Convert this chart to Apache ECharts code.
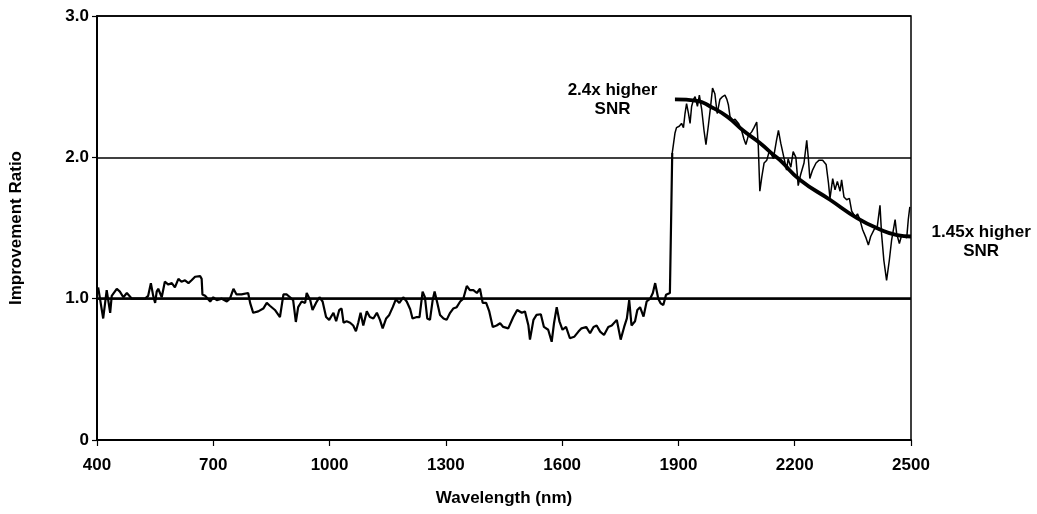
<!DOCTYPE html>
<html>
<head>
<meta charset="utf-8">
<script src="https://cdn.jsdelivr.net/npm/echarts@6/dist/echarts.min.js"></script>
<style>
html,body{margin:0;padding:0;background:#fff;}
#chart{width:1037px;height:514px;}
</style>
</head>
<body>
<div id="chart"></div>
<script>
// Measured ratio, visible-NIR part (nm, ratio)
var wavelengthsLow = [403,416,425,434,438,451,459,468,477,490,524,532,539,545,550,554,558,567,575,584,593,601,610,618,627,636,644,653,666,670,672,679,692,700,709,722,735,743,752,760,773,790,795,803,816,829,838,846,859,872,881,889,898,906,913,919,928,937,
941,950,956,965,974,982,991,999,1010,1017,1025,1031,1036,1044,1053,1061,1068,1074,1080,1087,1096,1104,1113,1122,1130,1137,1146,1154,1163,1171,1180,1190,1199,1208,1214,1225,1232,1240,1246,1252,1259,1266,1271,1278,1285,1294,1302,1311,1319,1328,1337,1345,1354,1362,1371,1380,1388,1395,1404,1412,1421,1431,1440,1448,1461,
1474,1484,1496,1504,1513,1517,1526,1534,1545,1553,1564,1573,1579,1586,1593,1601,1610,1620,1631,1642,1650,1662,1672,1681,1689,1698,1708,1719,1728,1741,1751,1760,1767,1773,1779,1788,1794,1801,1810,1818,1827,1834,1840,1848,1854,1861,1868,1878,1883,1884];
var ratiosLow = [1.08,0.86,1.06,0.90,1.02,1.07,1.05,1.01,1.04,1.00,1.00,1.02,1.11,1.02,0.97,1.05,1.07,1.01,1.12,1.10,1.11,1.08,1.14,1.12,1.13,1.11,1.13,1.155,1.16,1.14,1.03,1.02,0.98,1.01,0.99,1.00,0.98,1.00,1.07,1.03,1.03,1.04,0.97,0.90,0.91,0.93,0.97,0.95,0.92,0.87,1.03,1.03,1.01,0.99,0.835,0.94,0.98,0.97,
1.04,0.99,0.92,0.97,1.01,0.98,0.87,0.85,0.90,0.84,0.92,0.93,0.83,0.84,0.83,0.81,0.77,0.83,0.90,0.81,0.91,0.87,0.86,0.90,0.85,0.79,0.86,0.885,0.94,0.995,0.97,1.01,0.98,0.925,0.86,0.87,0.87,1.05,1.01,0.86,0.85,0.99,1.05,0.97,0.885,0.86,0.85,0.90,0.93,0.94,0.98,1.00,1.09,1.06,1.06,1.04,1.07,0.97,0.97,0.91,0.80,0.81,0.826,0.80,0.79,
0.87,0.92,0.90,0.91,0.81,0.71,0.85,0.885,0.89,0.80,0.78,0.695,0.826,0.94,0.84,0.78,0.80,0.72,0.73,0.767,0.79,0.80,0.755,0.80,0.81,0.767,0.743,0.80,0.81,0.85,0.71,0.80,0.86,0.99,0.81,0.84,0.92,0.94,0.873,0.98,1.00,1.04,1.11,1.00,0.967,0.955,1.027,1.04,1.04,2.03];
// Measured ratio, SWIR part
var wavelengthsHigh = [1884,1891,1895,1902,1908,1913,1917,1921,1926,1930,1934,1939,1943,1949,1954,1960,1966,1971,1977,1983,1988,1994,2000,2007,2014,2020,2025,2029,2033,2040,2046,2055,2063,2069,2074,2080,2089,2095,2102,2106,2110,2115,2121,2128,2135,2145,2153,2158,2164,2172,2179,
2183,2190,2196,2203,2209,2215,2224,2231,2235,2239,2246,2255,2263,2272,2281,2287,2291,2298,2304,2310,2317,2321,2327,2334,2341,2347,2356,2362,2368,2375,2384,2390,2396,2405,2413,2420,2424,2430,2437,2444,2450,2459,2463,2470,2476,2482,2489,2493,2497];
var ratiosHigh = [2.03,2.17,2.21,2.22,2.24,2.21,2.31,2.38,2.31,2.24,2.36,2.41,2.43,2.36,2.44,2.34,2.19,2.09,2.22,2.36,2.49,2.45,2.31,2.41,2.43,2.44,2.41,2.37,2.29,2.26,2.27,2.24,2.19,2.13,2.09,2.15,2.18,2.21,2.25,2.08,1.76,1.86,1.96,1.98,2.05,1.99,2.12,2.19,2.10,2.00,1.91,
1.99,1.93,2.04,2.00,1.80,1.875,1.96,2.12,2.00,1.85,1.91,1.96,1.98,1.98,1.95,1.82,1.71,1.85,1.77,1.83,1.76,1.84,1.72,1.70,1.71,1.62,1.58,1.60,1.56,1.49,1.43,1.38,1.44,1.49,1.51,1.66,1.46,1.27,1.13,1.27,1.415,1.56,1.46,1.39,1.45,1.44,1.43,1.56,1.65];
// Smooth fit through the SWIR region
var fitWavelengths = [1891,1948,1982,2025,2067,2111,2144,2162,2214,2291,2361,2420,2464,2500];
var fitRatios = [2.41,2.40,2.36,2.29,2.19,2.10,2.02,1.98,1.84,1.70,1.57,1.49,1.45,1.44];
// Axis ticks
var xTicks = [400,700,1000,1300,1600,1900,2200,2500];
var yTicks = [0,1,2,3];
var notes = [
  {text:'2.4x higher\nSNR', at:[1730, 2.41]},
  {text:'1.45x higher\nSNR', at:[2681, 1.40]}
];

function pairs(xs, ys){ return xs.map(function(x,i){return [x, ys[i]];}); }

var FONT = '"Liberation Sans", Arial, sans-serif';
var chart = echarts.init(document.getElementById('chart'));
chart.setOption({
  animation:false,
  backgroundColor:'#fff',
  grid:{left:97,right:126,top:16,bottom:74,show:true,borderColor:'#000',borderWidth:1.5,backgroundColor:'transparent'},
  xAxis:{
    type:'value', min:xTicks[0], max:xTicks[xTicks.length-1], interval:300,
    name:'Wavelength (nm)', nameLocation:'middle', nameGap:50,
    nameTextStyle:{fontFamily:FONT,fontWeight:'bold',fontSize:17,color:'#000'},
    axisLine:{show:true,lineStyle:{color:'#000',width:2}},
    axisTick:{show:true,length:6,lineStyle:{color:'#000',width:1.2}},
    axisLabel:{fontFamily:FONT,fontWeight:'bold',fontSize:17,color:'#000',margin:17,
      formatter:function(v){return String(v);}},
    splitLine:{show:false}
  },
  yAxis:{
    type:'value', min:yTicks[0], max:yTicks[yTicks.length-1], interval:1,
    name:'Improvement Ratio', nameLocation:'middle', nameGap:72, nameRotate:90,
    nameTextStyle:{fontFamily:FONT,fontWeight:'bold',fontSize:17,color:'#000'},
    axisLine:{show:true,lineStyle:{color:'#000',width:2}},
    axisTick:{show:true,length:5,lineStyle:{color:'#000',width:1.2}},
    axisLabel:{fontFamily:FONT,fontWeight:'bold',fontSize:17,color:'#000',margin:8,
      formatter:function(v){return v===0?'0':v.toFixed(1);}},
    splitLine:{show:true,lineStyle:{color:'#000',width:1.5}}
  },
  series:[
    {type:'line',data:pairs(wavelengthsLow,ratiosLow),symbol:'none',
     lineStyle:{color:'#000',width:2.2},z:3,
     markLine:{silent:true,symbol:'none',label:{show:false},
       lineStyle:{color:'#000',width:2.6,type:'solid'},data:[{yAxis:1}]}},
    {type:'line',data:pairs(wavelengthsHigh,ratiosHigh),symbol:'none',
     lineStyle:{color:'#000',width:1.5},z:3},
    {type:'line',data:pairs(fitWavelengths,fitRatios),symbol:'none',smooth:true,
     lineStyle:{color:'#000',width:3.8},z:4}
  ]
});

var gfx = notes.map(function(n){
  var p = chart.convertToPixel({gridIndex:0}, n.at);
  return {type:'text', x:p[0], y:p[1], z:10,
    style:{text:n.text, fill:'#000', font:'bold 17px '+FONT, align:'center', verticalAlign:'middle', lineHeight:19}};
});
chart.setOption({graphic:gfx});
</script>
</body>
</html>
